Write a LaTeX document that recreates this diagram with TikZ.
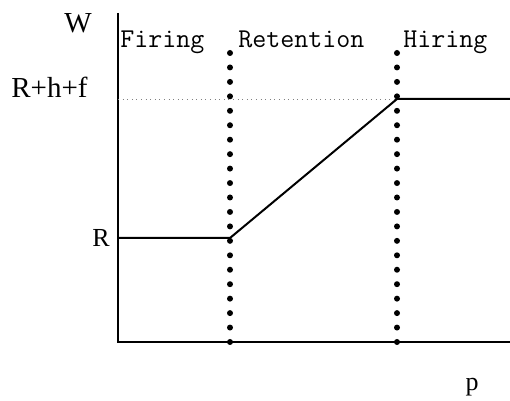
\documentclass[tikz,border=0pt]{standalone}
\usepackage{fontspec}
\setmainfont{Liberation Serif}
\begin{document}
\begin{tikzpicture}[x=0.5pt,y=-0.5pt,
  axisline/.style={line width=1pt},
  wageline/.style={line width=1pt},
  guide/.style={gray,dotted,line width=0.3pt},
  regime/.style={font=\ttfamily\fontsize{13.6}{14}\selectfont,anchor=base west,inner sep=0pt},
  biglabel/.style={font=\fontsize{14.5}{15}\selectfont,anchor=base,inner sep=0pt},
  smalllabel/.style={font=\fontsize{13}{14}\selectfont,anchor=base,inner sep=0pt}]
\useasboundingbox (0,0) rectangle (510,401);
% corners of the plot
\coordinate (top) at (118,13);
\coordinate (origin) at (118,342);
\coordinate (xend) at (510,342);
\coordinate (lowstart) at (118,238);
\coordinate (fire) at (230,238);
\coordinate (hire) at (397,99);
\coordinate (highend) at (510,99);
\coordinate (guidestart) at (118,99);
% axes
\draw[axisline] (top) -- (origin) -- (xend);
\draw[guide] (guidestart) -- (hire);
% wage schedule
\draw[wageline] (lowstart) -- (fire) -- (hire) -- (highend);
% regime borders
\foreach \bx in {230,397}
  \foreach \k in {0,...,20}
    \fill (\bx,{342-\k*14.45}) circle (1.5pt);
% labels
\node[biglabel] (wlab) at (78,33) {W};
\node[biglabel,anchor=base east] (toplab) at (88,98) {R+h+f};
\node[smalllabel,anchor=base east] (rlab) at (110,247) {R};
\node[smalllabel] (plab) at (472,391) {p};
\node[regime] (firing) at (120,48) {Firing};
\node[regime] (retention) at (238,48) {Retention};
\node[regime] (hiring) at (403,48) {Hiring};
\end{tikzpicture}
\end{document}
